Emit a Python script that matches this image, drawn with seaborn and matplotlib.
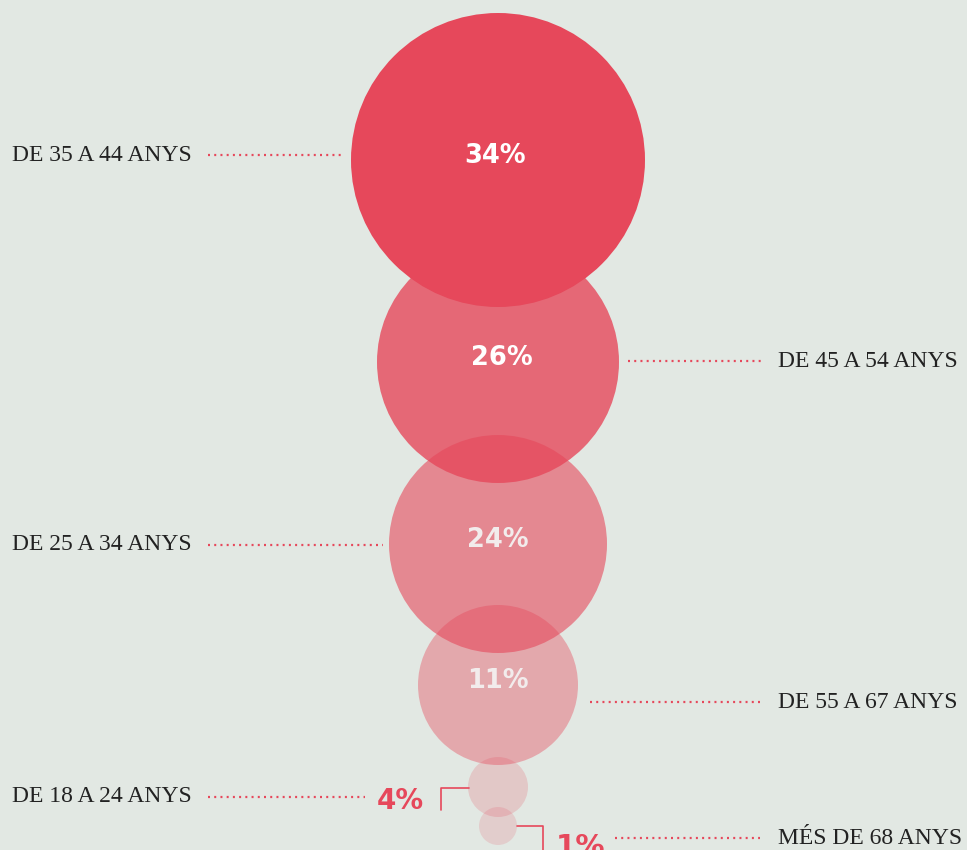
import matplotlib
matplotlib.use("Agg")
import matplotlib.pyplot as plt
from matplotlib.patches import Circle
import seaborn as sns

# --- Data ---
groups = ["DE 35 A 44 ANYS", "DE 45 A 54 ANYS", "DE 25 A 34 ANYS",
          "DE 55 A 67 ANYS", "DE 18 A 24 ANYS", "MÉS DE 68 ANYS"]
shares = [34, 26, 24, 11, 4, 1]

# --- Layout (pixel coordinates, y downwards) ---
cx = 498
cy = [160, 362, 544, 685, 787, 826]
radius = [147, 121, 109, 80, 30, 19]
alphas = [1.0, 0.8, 0.6, 0.4, 0.2, 0.17]
side = ["L", "R", "L", "R", "L", "R"]
label_y = [155, 361, 545, 702, 797, 838]
line_span = [(208, 342), (628, 762), (208, 383), (590, 762), (208, 365), (615, 760)]

red = "#e6485b"
bg = "#e2e8e3"

sns.set_theme(style="white")
plt.rcParams["font.family"] = ["DejaVu Sans"]

fig = plt.figure(figsize=(9.67, 8.5), dpi=100)
fig.patch.set_facecolor(bg)
ax = fig.add_axes([0, 0, 1, 1])
ax.set_facecolor(bg)
ax.set_xlim(0, 967)
ax.set_ylim(850, 0)
ax.set_aspect("equal")
ax.axis("off")

# bubbles, smallest first so the big one sits on top
for i in reversed(range(len(shares))):
    ax.add_patch(Circle((cx, cy[i]), radius[i], facecolor=red,
                        alpha=alphas[i], edgecolor="none", zorder=2 + (6 - i)))

# percentages inside the big bubbles
inner_col = ["white", "white", "#f2ecec", "#f2ecec"]
for i in range(4):
    ax.text(cx - 3 if i == 0 else cx + 4 if i == 1 else cx, cy[i] - 4,
            f"{shares[i]}%", ha="center", va="center",
            color=inner_col[i], fontsize=18.5, fontweight="bold",
            family="DejaVu Sans", zorder=20)

# group labels and dotted leaders
for i, g in enumerate(groups):
    x0, x1 = line_span[i]
    ax.plot([x0, x1], [label_y[i], label_y[i]], color=red, lw=1.6,
            linestyle=(0, (0.9, 1.9)), zorder=15)
    x_txt = 12 if side[i] == "L" else 778
    ax.text(x_txt, label_y[i], g, ha="left", va="center", fontsize=17,
            color="#222222", family=["Liberation Serif", "DejaVu Serif"])

# small shares outside, with bracket connectors
ax.text(377, 801, f"{shares[4]}%", ha="left", va="center", color=red,
        fontsize=20, fontweight="bold", family="DejaVu Sans")
ax.plot([441, 441, 469], [810, 788, 788], color=red, lw=1.2, zorder=15)

ax.text(556, 847, f"{shares[5]}%", ha="left", va="center", color=red,
        fontsize=21, fontweight="bold", family="DejaVu Sans")
ax.plot([517, 543, 543], [826, 826, 852], color=red, lw=1.2, zorder=15)

fig.savefig("out.png", dpi=100, facecolor=bg)
